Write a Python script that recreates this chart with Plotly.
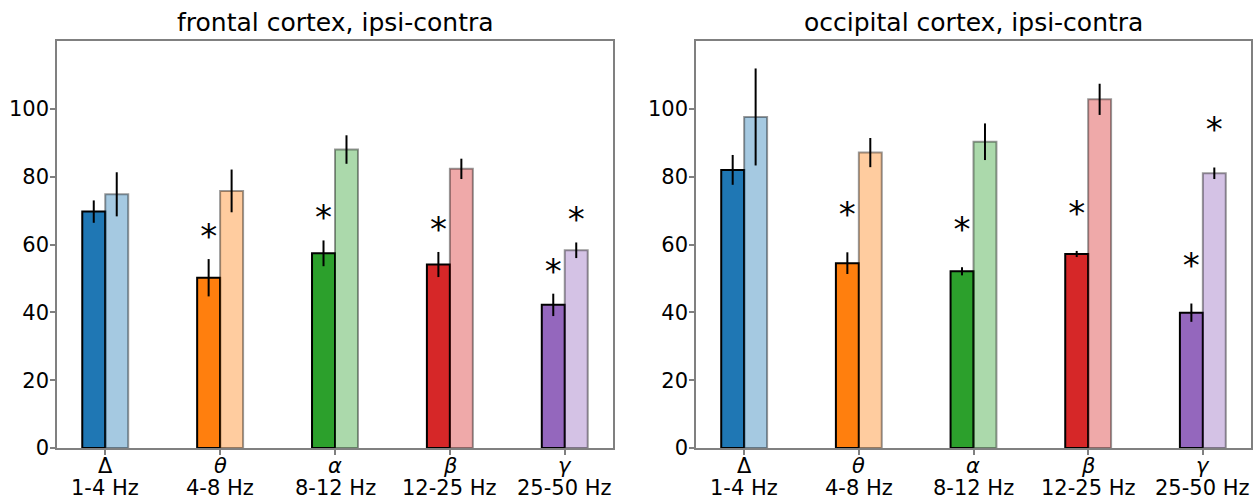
import plotly.graph_objects as go

band_symbols = ["Δ", "<i>θ</i>", "<i>α</i>", "<i>β</i>", "<i>γ</i>"]
band_ranges = ["1-4 Hz", "4-8 Hz", "8-12 Hz", "12-25 Hz", "25-50 Hz"]
colors = ["#1f77b4", "#ff7f0e", "#2ca02c", "#d62728", "#9467bd"]

# frontal cortex
fr_ipsi = [69.7, 50.2, 57.4, 54.1, 42.2]
fr_ipsi_err = [3.3, 5.5, 3.8, 3.7, 3.3]
fr_contra = [74.8, 75.8, 88.0, 82.3, 58.3]
fr_contra_err = [6.5, 6.3, 4.2, 3.0, 2.3]
fr_sig_ipsi = [False, True, True, True, True]
fr_sig_contra = [False, False, False, False, True]

# occipital cortex
oc_ipsi = [82.0, 54.5, 52.1, 57.2, 39.9]
oc_ipsi_err = [4.4, 3.2, 1.2, 0.9, 2.7]
oc_contra = [97.6, 87.1, 90.3, 102.8, 81.0]
oc_contra_err = [14.3, 4.3, 5.4, 4.6, 1.7]
oc_sig_ipsi = [False, True, True, True, True]
oc_sig_contra = [False, False, False, False, True]

titles = ["frontal cortex, ipsi-contra", "occipital cortex, ipsi-contra"]
yticks = [0, 20, 40, 60, 80, 100]


def light(hexc, a=0.4):
    r, g, b = int(hexc[1:3], 16), int(hexc[3:5], 16), int(hexc[5:7], 16)
    return f"rgba({r},{g},{b},{a})"


fig = go.Figure()
panels = [
    (fr_ipsi, fr_ipsi_err, fr_contra, fr_contra_err, fr_sig_ipsi, fr_sig_contra, 5.8),
    (oc_ipsi, oc_ipsi_err, oc_contra, oc_contra_err, oc_sig_ipsi, oc_sig_contra, 10.3),
]
domains = [[57 / 1257, 613 / 1257], [696 / 1257, 1251 / 1257]]
ydom = [1 - 448 / 499, 1 - 41 / 499]
xs = list(range(len(band_symbols)))
W = 0.2
FONT = "DejaVu Sans"

for p, (ip, ipe, co, coe, sgi, sgc, off) in enumerate(panels):
    xa = "x" if p == 0 else "x2"
    ya = "y" if p == 0 else "y2"
    fig.add_trace(go.Bar(
        x=[x - W / 2 for x in xs], y=ip, width=W, xaxis=xa, yaxis=ya,
        marker=dict(color=colors, line=dict(color="black", width=2)),
        error_y=dict(type="data", array=ipe, color="black", thickness=2, width=0),
        showlegend=False))
    fig.add_trace(go.Bar(
        x=[x + W / 2 for x in xs], y=co, width=W, xaxis=xa, yaxis=ya,
        marker=dict(color=[light(c) for c in colors], line=dict(color="rgba(0,0,0,0.4)", width=2)),
        error_y=dict(type="data", array=coe, color="black", thickness=2, width=0),
        showlegend=False))
    sx, sy = [], []
    for i in xs:
        if sgi[i]:
            sx.append(i - W / 2); sy.append(ip[i] + ipe[i] + off)
        if sgc[i]:
            sx.append(i + W / 2); sy.append(co[i] + coe[i] + off)
    fig.add_trace(go.Scatter(
        x=sx, y=sy, mode="text", text=["*"] * len(sx), xaxis=xa, yaxis=ya,
        textposition="middle center",
        textfont=dict(size=34, color="black", family=FONT),
        showlegend=False, hoverinfo="skip"))
    # x tick labels (two lines, tight spacing like the reference)
    for i in xs:
        fig.add_annotation(text=band_symbols[i], x=i, xref=xa, y=1 - 465.5 / 499, yref="paper",
                           xanchor="center", yanchor="middle", showarrow=False,
                           font=dict(family=FONT, size=21, color="black"))
        fig.add_annotation(text=band_ranges[i], x=i, xref=xa, y=1 - 487.5 / 499, yref="paper",
                           xanchor="center", yanchor="middle", showarrow=False,
                           font=dict(family=FONT, size=21, color="black"))

axis_common = dict(showline=True, linecolor="#808080", linewidth=1.5, mirror=True,
                   ticks="outside", tickcolor="#808080", ticklen=5, tickwidth=1.5,
                   showgrid=False, zeroline=False, automargin=False,
                   tickfont=dict(family=FONT, size=21, color="black"))
for p in range(2):
    sfx = "" if p == 0 else "2"
    fig.update_layout(**{
        "xaxis" + sfx: dict(domain=domains[p], range=[-0.42, 4.42], tickvals=xs,
                            showticklabels=False, anchor="y" + sfx, **axis_common),
        "yaxis" + sfx: dict(domain=ydom, range=[0, 120], tickvals=yticks, ticklabelstandoff=-3,
                            anchor="x" + sfx, **axis_common),
    })
    fig.add_annotation(text=titles[p], xref="paper", yref="paper",
                       x=(domains[p][0] + domains[p][1]) / 2, y=1 - 22 / 499,
                       xanchor="center", yanchor="middle", showarrow=False,
                       font=dict(family=FONT, size=25, color="black"))

fig.update_layout(width=1257, height=499, margin=dict(l=0, r=0, t=0, b=0),
                  plot_bgcolor="white", paper_bgcolor="white", barmode="overlay")
fig.write_html("out.html")
